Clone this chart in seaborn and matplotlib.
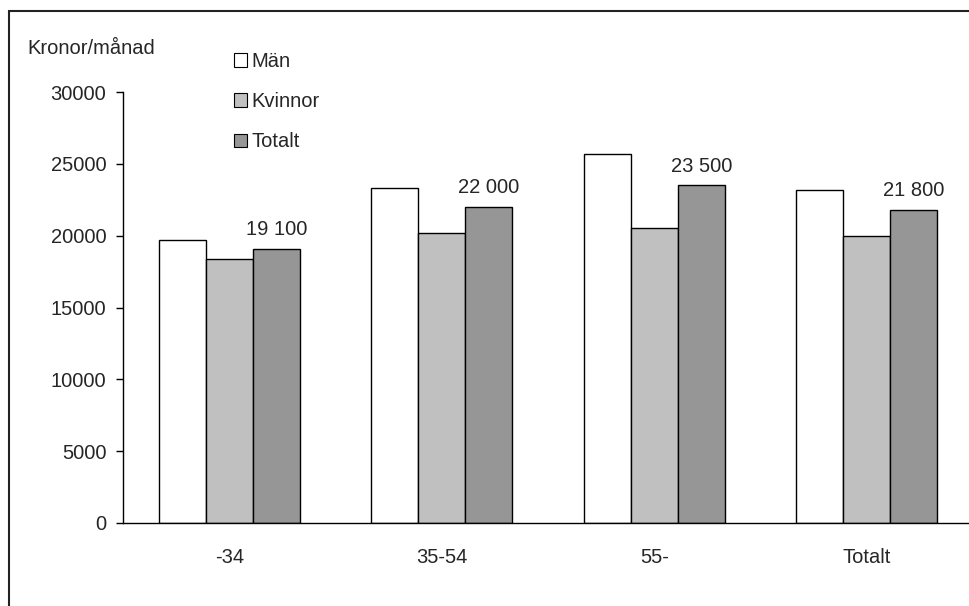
import matplotlib
matplotlib.use("Agg")
import matplotlib.pyplot as plt
from matplotlib.patches import Rectangle, Patch
import seaborn as sns
import pandas as pd

# Monthly wage by age group and sex
categories = ["-34", "35-54", "55-", "Totalt"]
series_names = ["Män", "Kvinnor", "Totalt"]
man = [19700, 23300, 25700, 23200]
kvinnor = [18400, 20200, 20500, 20000]
totalt = [19100, 22000, 23500, 21800]
colors = ["#FFFFFF", "#C0C0C0", "#969696"]
y_ticks = [0, 5000, 10000, 15000, 20000, 25000, 30000]

df = pd.DataFrame({
    "grupp": categories * 3,
    "serie": [series_names[0]] * 4 + [series_names[1]] * 4 + [series_names[2]] * 4,
    "lon": man + kvinnor + totalt,
})

FS = 14.5

sns.set_theme(style="white")
plt.rcParams["font.family"] = ["Liberation Sans", "DejaVu Sans"]
plt.rcParams["font.size"] = FS

fig = plt.figure(figsize=(9.7, 6.06), dpi=100)
ax = fig.add_axes([123 / 970, 83 / 606, 850 / 970, 431 / 606])

sns.barplot(data=df, x="grupp", y="lon", hue="serie", order=categories,
            hue_order=series_names, palette=colors, saturation=1,
            edgecolor="black", linewidth=1.0, width=0.664, gap=0,
            errorbar=None, ax=ax)

ax.set_xlim(-0.5, 3.5)
ax.set_ylim(0, 30000)
ax.set_yticks(y_ticks)
ax.set_yticklabels([str(v) for v in y_ticks], fontsize=FS)
ax.set_xlabel("")
ax.set_ylabel("")
ax.tick_params(axis="y", direction="out", length=5, width=1, color="black",
               pad=7, left=True)
ax.tick_params(axis="x", length=0, pad=18, labelsize=FS)
for side in ["top", "right"]:
    ax.spines[side].set_visible(False)
for side in ["left", "bottom"]:
    ax.spines[side].set_color("black")
    ax.spines[side].set_linewidth(1.0)
ax.grid(False)

# Value labels above the "Totalt" bars
tot_container = ax.containers[2]
for bar, val in zip(tot_container, totalt):
    ax.annotate(f"{val:,}".replace(",", " "),
                (bar.get_x() + bar.get_width() / 2, val),
                xytext=(0, 7), textcoords="offset points",
                ha="center", va="bottom", fontsize=FS)

# Legend
ax.get_legend().remove()
handles = [Patch(facecolor=c, edgecolor="black", linewidth=0.8) for c in colors]
fig.legend(handles, series_names, loc="upper left",
           bbox_to_anchor=(224 / 970, 1 - 42 / 606), frameon=False,
           handlelength=0.65, handleheight=0.65, handletextpad=0.2,
           labelspacing=1.05, fontsize=FS, borderpad=0)

fig.text(27 / 970, 1 - 48 / 606, "Kronor/månad", ha="left", va="center",
         fontsize=FS)

# Outer frame
fig.patches.append(Rectangle((9 / 970, -0.1), 1.2, 1.1 - 10.5 / 606,
                             transform=fig.transFigure, fill=False,
                             edgecolor="#222222", linewidth=1.5))

fig.savefig("out.png", dpi=100)
